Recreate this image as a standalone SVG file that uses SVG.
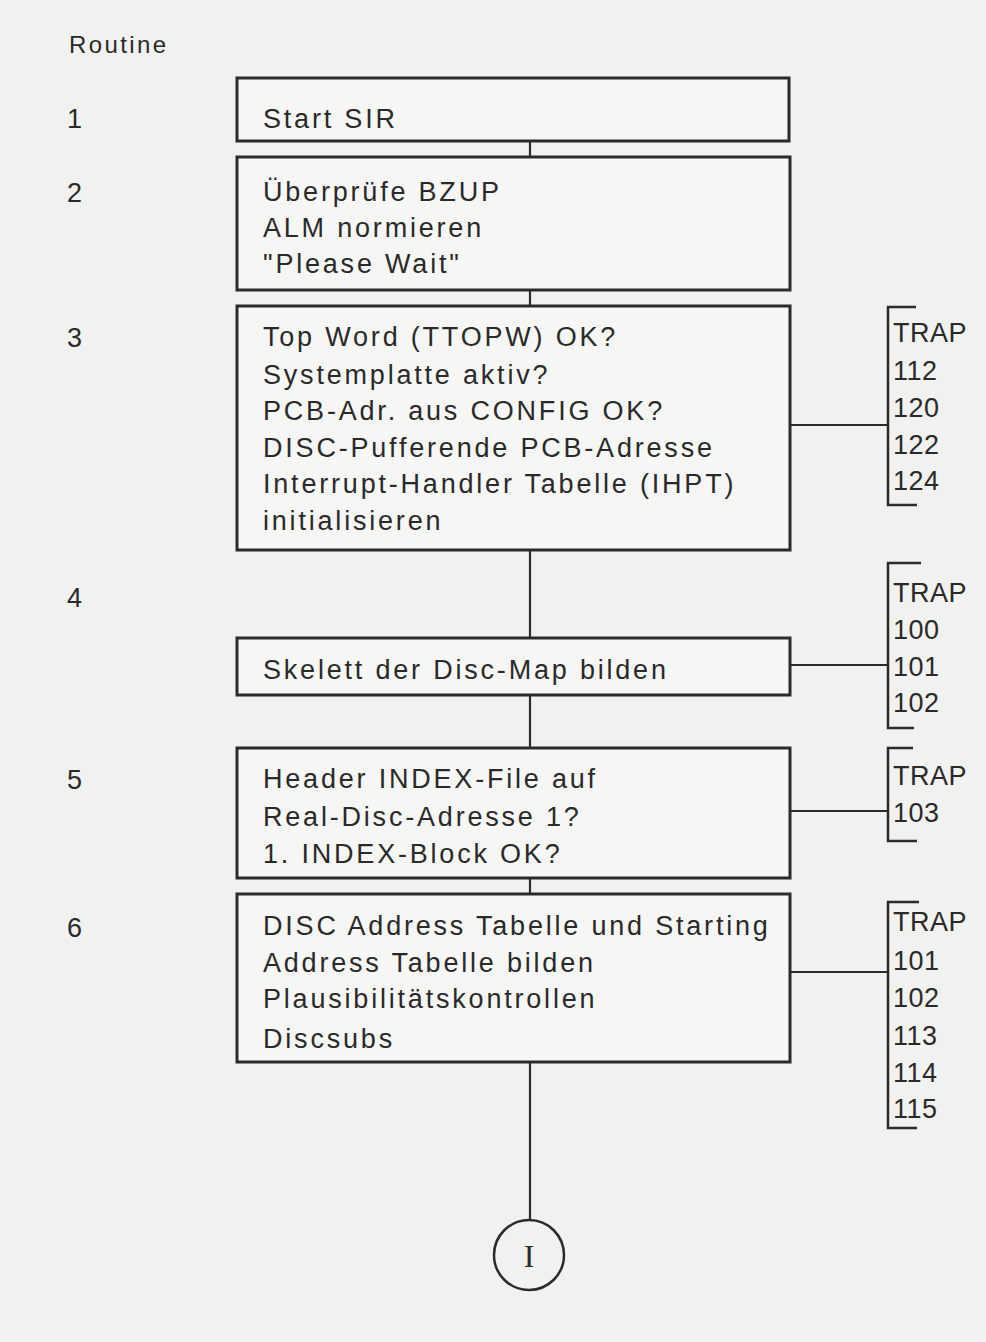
<svg xmlns="http://www.w3.org/2000/svg" width="986" height="1342" viewBox="0 0 986 1342">
<style>
.bg{fill:#f1f1ef}
.box{fill:#f6f6f4;stroke:#2b2b2b;stroke-width:3}
.ln{stroke:#2b2b2b;stroke-width:2.2;fill:none}
.br{stroke:#2b2b2b;stroke-width:2.5;fill:none}
text{font-family:"Liberation Sans",Arial,sans-serif;fill:#2a2a2a}
.t{font-size:27px;letter-spacing:2.8px}
.n{font-size:27px}
.trap{font-size:27px;letter-spacing:0.5px}
.hd{font-size:24px;letter-spacing:2.4px}
</style>
<rect class="bg" x="0" y="0" width="986" height="1342"/>
<text class="hd" x="69" y="53">Routine</text>
<g id="nums">
<text class="n" x="67" y="128">1</text>
<text class="n" x="67" y="202">2</text>
<text class="n" x="67" y="347">3</text>
<text class="n" x="67" y="607">4</text>
<text class="n" x="67" y="789">5</text>
<text class="n" x="67" y="937">6</text>
</g>
<g id="connectors">
<line class="ln" x1="530" y1="141" x2="530" y2="157"/>
<line class="ln" x1="530" y1="290" x2="530" y2="306"/>
<line class="ln" x1="530" y1="550" x2="530" y2="638"/>
<line class="ln" x1="530" y1="695" x2="530" y2="748"/>
<line class="ln" x1="530" y1="878" x2="530" y2="894"/>
<line class="ln" x1="530" y1="1062" x2="530" y2="1220"/>
<line class="ln" x1="790" y1="425" x2="888" y2="425"/>
<line class="ln" x1="790" y1="665" x2="888" y2="665"/>
<line class="ln" x1="790" y1="811" x2="888" y2="811"/>
<line class="ln" x1="790" y1="972" x2="888" y2="972"/>
</g>
<g id="n1">
<rect class="box" x="237" y="78" width="552" height="63"/>
<text class="t" x="263" y="128">Start SIR</text>
</g>
<g id="n2">
<rect class="box" x="237" y="157" width="553" height="133"/>
<text class="t" x="263" y="201">Überprüfe BZUP</text>
<text class="t" x="263" y="237">ALM normieren</text>
<text class="t" x="263" y="273">"Please Wait"</text>
</g>
<g id="n3">
<rect class="box" x="237" y="306" width="553" height="244"/>
<text class="t" x="263" y="346">Top Word (TTOPW) OK?</text>
<text class="t" x="263" y="384">Systemplatte aktiv?</text>
<text class="t" x="263" y="420">PCB-Adr. aus CONFIG OK?</text>
<text class="t" x="263" y="457">DISC-Pufferende PCB-Adresse</text>
<text class="t" x="263" y="493">Interrupt-Handler Tabelle (IHPT)</text>
<text class="t" x="263" y="530">initialisieren</text>
</g>
<g id="n4">
<rect class="box" x="237" y="638" width="553" height="57"/>
<text class="t" x="263" y="679">Skelett der Disc-Map bilden</text>
</g>
<g id="n5">
<rect class="box" x="237" y="748" width="553" height="130"/>
<text class="t" x="263" y="788">Header INDEX-File auf</text>
<text class="t" x="263" y="826">Real-Disc-Adresse 1?</text>
<text class="t" x="263" y="863">1. INDEX-Block OK?</text>
</g>
<g id="n6">
<rect class="box" x="237" y="894" width="553" height="168"/>
<text class="t" x="263" y="935">DISC Address Tabelle und Starting</text>
<text class="t" x="263" y="972">Address Tabelle bilden</text>
<text class="t" x="263" y="1008">Plausibilitätskontrollen</text>
<text class="t" x="263" y="1048">Discsubs</text>
</g>
<g id="trap1">
<path class="br" d="M916 307 H888 V505 H917"/>
<text class="trap" x="893" y="342">TRAP</text>
<text class="trap" x="893" y="380">112</text>
<text class="trap" x="893" y="417">120</text>
<text class="trap" x="893" y="454">122</text>
<text class="trap" x="893" y="490">124</text>
</g>
<g id="trap2">
<path class="br" d="M921 563 H888 V728 H914"/>
<text class="trap" x="893" y="602">TRAP</text>
<text class="trap" x="893" y="639">100</text>
<text class="trap" x="893" y="676">101</text>
<text class="trap" x="893" y="712">102</text>
</g>
<g id="trap3">
<path class="br" d="M913 748 H888 V841 H917"/>
<text class="trap" x="893" y="785">TRAP</text>
<text class="trap" x="893" y="822">103</text>
</g>
<g id="trap4">
<path class="br" d="M919 902 H888 V1128 H917"/>
<text class="trap" x="893" y="931">TRAP</text>
<text class="trap" x="893" y="970">101</text>
<text class="trap" x="893" y="1007">102</text>
<text class="trap" x="893" y="1045">113</text>
<text class="trap" x="893" y="1082">114</text>
<text class="trap" x="893" y="1118">115</text>
</g>
<g id="conn-I">
<circle cx="529" cy="1255" r="35" fill="none" stroke="#2b2b2b" stroke-width="2.5"/>
<text x="529" y="1267" text-anchor="middle" style="font-family:'Liberation Serif',serif;font-size:32px">I</text>
</g>
</svg>
